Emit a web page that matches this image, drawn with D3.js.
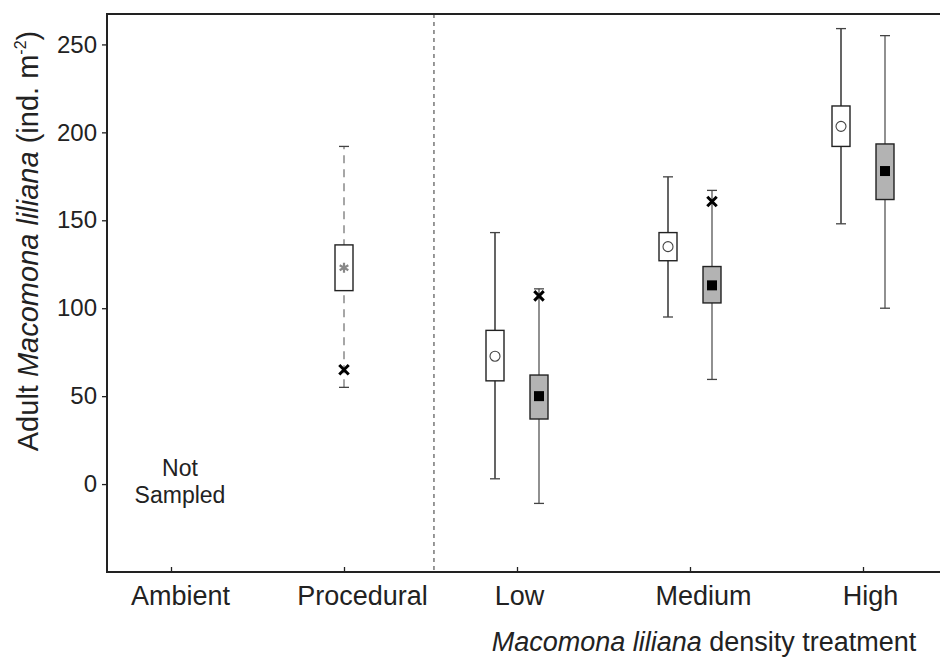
<!DOCTYPE html>
<meta charset="utf-8">
<script src="https://d3js.org/d3.v7.min.js"></script>
<style>
  body { margin: 0; background: #fff; }
  text { font-family: "Liberation Sans", Arial, sans-serif; fill: #222; }
</style>
<div id="chart"></div>
<script>

// treatments on the x axis
var groups = ["Ambient", "Procedural", "Low", "Medium", "High"]

// one entry per box
var boxGroup  = ["Procedural", "Low", "Low", "Medium", "Medium", "High", "High"]
var boxKind   = ["procedural", "open", "filled", "open", "filled", "open", "filled"]
var whiskLo   = [55, 3, -11, 95, 59.5, 148, 100]
var boxQ1     = [110, 58.7, 37, 127, 103, 192, 161.8]
var boxQ3     = [136, 87.4, 62, 143, 123.7, 215, 193.4]
var whiskHi   = [192, 143, 111, 174.7, 167, 259, 255]
var boxMean   = [123, 72.7, 50, 135, 113, 203.4, 178]
var outlier   = [65, null, 107, null, 160.7, null, null]

var yTicks = [0, 50, 100, 150, 200, 250]

var w = 940, h = 661
var margin = {top: 14, right: -5, bottom: 89, left: 107}

var svg = d3.select("#chart").append("svg")
    .attr("width", w)
    .attr("height", h)

var x = d3.scalePoint()
    .domain(groups)
    .range([171, 863])

var y = d3.scaleLinear()
    .domain([-50, 267.3])
    .range([h - margin.bottom, margin.top])

var dodge = {procedural: 0, open: -22, filled: 22}
var boxW = 18, capW = 10

var boxes = boxGroup.map(function(g, i) {
  return {cx: x(g) + dodge[boxKind[i]], kind: boxKind[i],
          lo: whiskLo[i], q1: boxQ1[i], q3: boxQ3[i], hi: whiskHi[i],
          mean: boxMean[i], out: outlier[i]}
})

// separator between control and density treatments
var sepX = x("Procedural") + 0.52 * x.step()
svg.append("line")
    .attr("x1", sepX).attr("x2", sepX)
    .attr("y1", margin.top).attr("y2", h - margin.bottom)
    .attr("stroke", "#555")
    .attr("stroke-width", 1.2)
    .attr("stroke-dasharray", "4,4")

//// whiskers
var g = svg.append("g")
g.selectAll(".whisk")
  .data(boxes)
  .enter().append("line")
    .attr("class", "whisk")
    .attr("x1", d => d.cx).attr("x2", d => d.cx)
    .attr("y1", d => y(d.lo)).attr("y2", d => y(d.hi))
    .attr("stroke", d => d.kind == "procedural" ? "#777" : "#555")
    .attr("stroke-width", d => d.kind == "open" ? 1.8 : 1.3)
    .attr("stroke-dasharray", d => d.kind == "procedural" ? "8,6" : null)

g.selectAll(".cap")
  .data(boxes.flatMap(d => [{cx: d.cx, v: d.lo}, {cx: d.cx, v: d.hi}]))
  .enter().append("line")
    .attr("class", "cap")
    .attr("x1", d => d.cx - capW / 2).attr("x2", d => d.cx + capW / 2)
    .attr("y1", d => y(d.v)).attr("y2", d => y(d.v))
    .attr("stroke", "#444")
    .attr("stroke-width", 1.3)

//// boxes
g.selectAll(".box")
  .data(boxes)
  .enter().append("rect")
    .attr("class", "box")
    .attr("x", d => d.cx - boxW / 2)
    .attr("width", boxW)
    .attr("y", d => y(d.q3))
    .attr("height", d => y(d.q1) - y(d.q3))
    .attr("fill", d => d.kind == "filled" ? "#b3b3b3" : "#fff")
    .attr("stroke", "#222")
    .attr("stroke-width", 1.4)

//// means
g.selectAll(".mOpen")
  .data(boxes.filter(d => d.kind == "open"))
  .enter().append("circle")
    .attr("cx", d => d.cx).attr("cy", d => y(d.mean))
    .attr("r", 5)
    .attr("fill", "#fff")
    .attr("stroke", "#444")
    .attr("stroke-width", 1.1)

g.selectAll(".mFill")
  .data(boxes.filter(d => d.kind == "filled"))
  .enter().append("rect")
    .attr("x", d => d.cx - 5).attr("y", d => y(d.mean) - 5)
    .attr("width", 10).attr("height", 10)
    .attr("fill", "#000")

g.selectAll(".mProc")
  .data(boxes.filter(d => d.kind == "procedural"))
  .enter().append("path")
    .attr("d", d => d3.symbol().type(d3.symbolAsterisk).size(70)())
    .attr("transform", d => `translate(${d.cx},${y(d.mean)})`)
    .attr("stroke", "#888")
    .attr("stroke-width", 2.2)

//// outliers
g.selectAll(".out")
  .data(boxes.filter(d => d.out != null))
  .enter().append("path")
    .attr("d", d3.symbol().type(d3.symbolTimes).size(60)())
    .attr("transform", d => `translate(${d.cx},${y(d.out)})`)
    .attr("fill", "none")
    .attr("stroke", "#000")
    .attr("stroke-width", 3)

//// frame
svg.append("path")
    .attr("d", `M${w + 5},${margin.top}H${margin.left}V${h - margin.bottom}H${w + 5}`)
    .attr("fill", "none")
    .attr("stroke", "#222")
    .attr("stroke-width", 2)

//// axes
var labelNudge = [9, 18, 2, 13, 7]

var xAxis = svg.append("g")
    .attr("transform", `translate(0,${h - margin.bottom})`)
    .call(d3.axisBottom(x).tickSize(-5).tickPadding(14))
xAxis.select(".domain").remove()
xAxis.selectAll("line").attr("stroke", "#222").attr("stroke-width", 1.3)
xAxis.selectAll("text")
    .attr("font-size", "27px")
    .attr("font-family", "Liberation Sans, Arial, sans-serif")
    .attr("fill", "#222")
    .attr("x", (d, i) => labelNudge[i])

var yAxis = svg.append("g")
    .attr("transform", `translate(${margin.left},0)`)
    .call(d3.axisLeft(y).tickValues(yTicks).tickSize(5).tickPadding(5))
yAxis.select(".domain").remove()
yAxis.selectAll("line").attr("stroke", "#222").attr("stroke-width", 1.3)
yAxis.selectAll("text")
    .attr("font-size", "24px")
    .attr("font-family", "Liberation Sans, Arial, sans-serif")
    .attr("fill", "#222")

//// labels
var notS = svg.append("text")
    .attr("text-anchor", "middle")
    .attr("font-size", "23px")
notS.append("tspan").attr("x", x("Ambient") + 9).attr("y", 476).text("Not")
notS.append("tspan").attr("x", x("Ambient") + 9).attr("y", 503).text("Sampled")

var xlabel = svg.append("text")
    .attr("text-anchor", "middle")
    .attr("font-size", "27px")
    .attr("x", 704)
    .attr("y", 651)
xlabel.append("tspan").attr("font-style", "italic").text("Macomona liliana")
xlabel.append("tspan").text(" density treatment")

var ylabel = svg.append("text")
    .attr("text-anchor", "middle")
    .attr("font-size", "29px")
    .attr("transform", "rotate(-90)")
    .attr("x", -241)
    .attr("y", 38)
ylabel.append("tspan").text("Adult ")
ylabel.append("tspan").attr("font-style", "italic").text("Macomona liliana")
ylabel.append("tspan").text(" (ind. m")
ylabel.append("tspan").attr("font-size", "16px").attr("dy", "-12").text("-2")
ylabel.append("tspan").attr("dy", "12").text(")")

</script>
